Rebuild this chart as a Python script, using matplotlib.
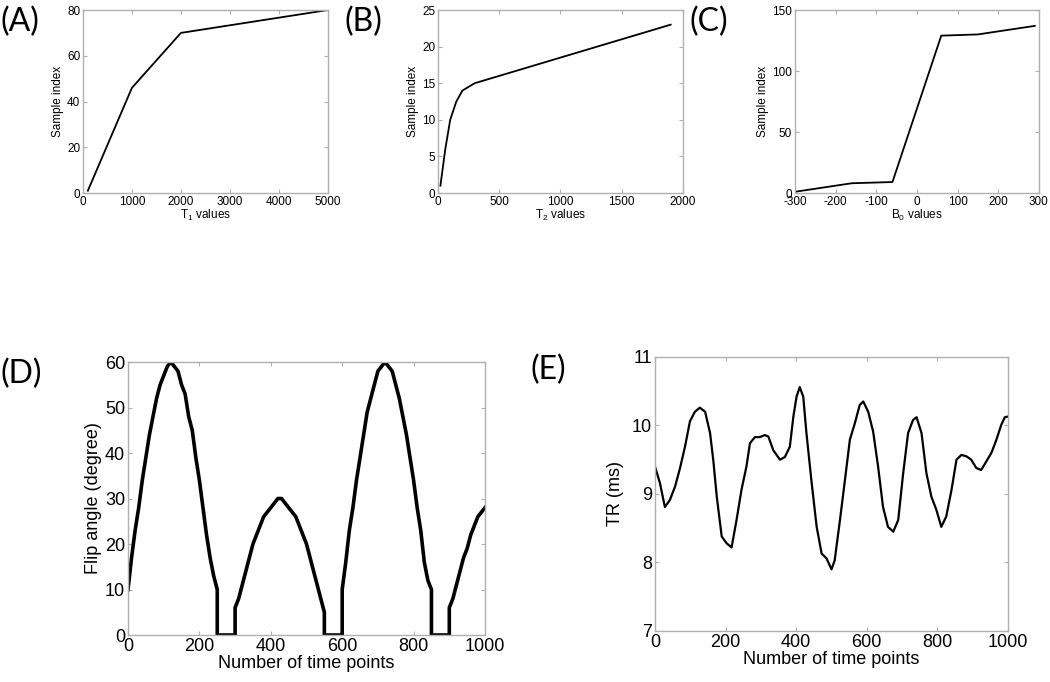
import numpy as np
import matplotlib
matplotlib.use("Agg")
import matplotlib.pyplot as plt

plt.rcParams['font.family'] = ['Liberation Sans', 'DejaVu Sans']
plt.rcParams['axes.unicode_minus'] = False
plt.rcParams['mathtext.default'] = 'regular'

# ---- data ----
# (A) T1 sampling
t1_vals = [100, 1000, 2000, 5000]
t1_idx = [1, 46, 70, 80]

# (B) T2 sampling
t2_vals = [20, 60, 100, 150, 200, 300, 1900]
t2_idx = [1, 6, 10, 12.5, 14, 15, 23]

# (C) B0 sampling
b0_vals = [-300, -160, -60, 60, 150, 290]
b0_idx = [1, 8, 9, 129, 130, 137]

# (D) flip angle lobes, one value every 10 time points
lobe1 = [10, 17, 23, 28, 34, 39, 44, 48, 52, 55, 57, 59, 60,
         59, 58, 55, 53, 48, 45, 39, 34, 28, 22, 17, 13, 10]
lobe2 = [6, 8, 11, 14, 17, 20, 22, 24, 26, 27, 28, 29, 30,
         30, 29, 28, 27, 26, 24, 22, 20, 17, 14, 11, 8, 5]
lobe3 = [10, 16, 23, 28, 34, 39, 44, 49, 52, 55, 58, 59, 60,
         59, 58, 55, 52, 48, 44, 39, 34, 28, 23, 16, 12, 10]
lobe4 = [6, 8, 11, 14, 17, 19, 22, 24, 26, 27, 28]
lobe_start = [0, 300, 600, 900]

# (E) TR curve
tr_t = [0, 14, 28, 42, 57, 71, 85, 99, 113, 127, 142, 156, 165, 175, 189,
        203, 217, 231, 245, 259, 269, 283, 297, 311, 321, 335, 354, 368,
        382, 392, 401, 410, 420, 429, 443, 458, 472, 486, 500, 509, 524,
        538, 552, 566, 580, 590, 604, 618, 632, 646, 660, 675, 689, 703,
        717, 731, 741, 755, 769, 783, 797, 811, 825, 840, 854, 868, 882,
        896, 910, 924, 938, 953, 967, 981, 991, 1000]
tr_ms = [9.40, 9.16, 8.81, 8.91, 9.11, 9.38, 9.69, 10.06, 10.20, 10.26,
         10.20, 9.89, 9.50, 8.96, 8.38, 8.28, 8.22, 8.62, 9.06, 9.40, 9.74,
         9.83, 9.83, 9.86, 9.84, 9.64, 9.50, 9.54, 9.69, 10.13, 10.42,
         10.56, 10.42, 9.89, 9.20, 8.52, 8.13, 8.06, 7.90, 8.03, 8.62, 9.20,
         9.79, 10.03, 10.30, 10.35, 10.20, 9.91, 9.40, 8.81, 8.52, 8.45,
         8.62, 9.30, 9.89, 10.08, 10.12, 9.89, 9.30, 8.96, 8.77, 8.52, 8.67,
         9.06, 9.50, 9.57, 9.55, 9.50, 9.38, 9.35, 9.47, 9.60, 9.79, 10.01,
         10.12, 10.13]


def matlab_axes(ax, fs):
    # boxed axes with inward ticks on every side, grey frame
    for s in ax.spines.values():
        s.set_color('#b0b0b0')
        s.set_linewidth(1.0)
    ax.tick_params(direction='in', top=True, right=True, length=3,
                   color='#b0b0b0', labelsize=fs, labelcolor='black', pad=2)


fig = plt.figure(figsize=(10.5, 6.82), dpi=100)

axA = fig.add_axes([0.079, 0.717, 0.2333, 0.2683])
axB = fig.add_axes([0.4171, 0.717, 0.2333, 0.2683])
axC = fig.add_axes([0.757, 0.717, 0.2324, 0.2683])
axD = fig.add_axes([0.1219, 0.0689, 0.34, 0.4003])
axE = fig.add_axes([0.6238, 0.0748, 0.3362, 0.4018])

small = 8.5
big = 13

axA.plot(t1_vals, t1_idx, color='black', lw=1.3)
axA.set_xlim(0, 5000)
axA.set_ylim(0, 80)
axA.set_xticks([0, 1000, 2000, 3000, 4000, 5000])
axA.set_yticks([0, 20, 40, 60, 80])
axA.set_xlabel('T$_1$ values', fontsize=small, labelpad=0)
axA.set_ylabel('Sample index', fontsize=small, labelpad=2)
matlab_axes(axA, small)

axB.plot(t2_vals, t2_idx, color='black', lw=1.3)
axB.set_xlim(0, 2000)
axB.set_ylim(0, 25)
axB.set_xticks([0, 500, 1000, 1500, 2000])
axB.set_yticks([0, 5, 10, 15, 20, 25])
axB.set_xlabel('T$_2$ values', fontsize=small, labelpad=0)
axB.set_ylabel('Sample index', fontsize=small, labelpad=2)
matlab_axes(axB, small)

axC.plot(b0_vals, b0_idx, color='black', lw=1.3)
axC.set_xlim(-300, 300)
axC.set_ylim(0, 150)
axC.set_xticks([-300, -200, -100, 0, 100, 200, 300])
axC.set_yticks([0, 50, 100, 150])
axC.set_xlabel('B$_0$ values', fontsize=small, labelpad=0)
axC.set_ylabel('Sample index', fontsize=small, labelpad=2)
matlab_axes(axC, small)

# flip angle: lobes joined by zero gaps
fa_t, fa_v = [], []
for start, lobe in zip(lobe_start, [lobe1, lobe2, lobe3, lobe4]):
    if fa_t:
        fa_t.append(start)
        fa_v.append(0)
    fa_t.extend(start + 10 * np.arange(len(lobe)))
    fa_v.extend(lobe)
    if start + 10 * (len(lobe) - 1) < 1000:
        fa_t.append(start + 10 * (len(lobe) - 1))
        fa_v.append(0)
axD.plot(fa_t, fa_v, color='black', lw=2.6)
axD.set_xlim(0, 1000)
axD.set_ylim(0, 60)
axD.set_xticks([0, 200, 400, 600, 800, 1000])
axD.set_yticks([0, 10, 20, 30, 40, 50, 60])
axD.set_xlabel('Number of time points', fontsize=big, labelpad=0)
axD.set_ylabel('Flip angle (degree)', fontsize=big, labelpad=2)
matlab_axes(axD, big)

axE.plot(tr_t, tr_ms, color='black', lw=1.6)
axE.set_xlim(0, 1000)
axE.set_ylim(7, 11)
axE.set_xticks([0, 200, 400, 600, 800, 1000])
axE.set_yticks([7, 8, 9, 10, 11])
axE.set_xlabel('Number of time points', fontsize=big, labelpad=0)
axE.set_ylabel('TR (ms)', fontsize=big, labelpad=6)
matlab_axes(axE, big)

for lab, x, y in [('(A)', 0.0, 0.968), ('(B)', 0.328, 0.968), ('(C)', 0.657, 0.968),
                  ('(D)', 0.0, 0.452), ('(E)', 0.505, 0.457)]:
    fig.text(x, y, lab, fontsize=23, family=['Lato', 'DejaVu Sans'], va='center', ha='left')

fig.savefig('out.png', dpi=100)
